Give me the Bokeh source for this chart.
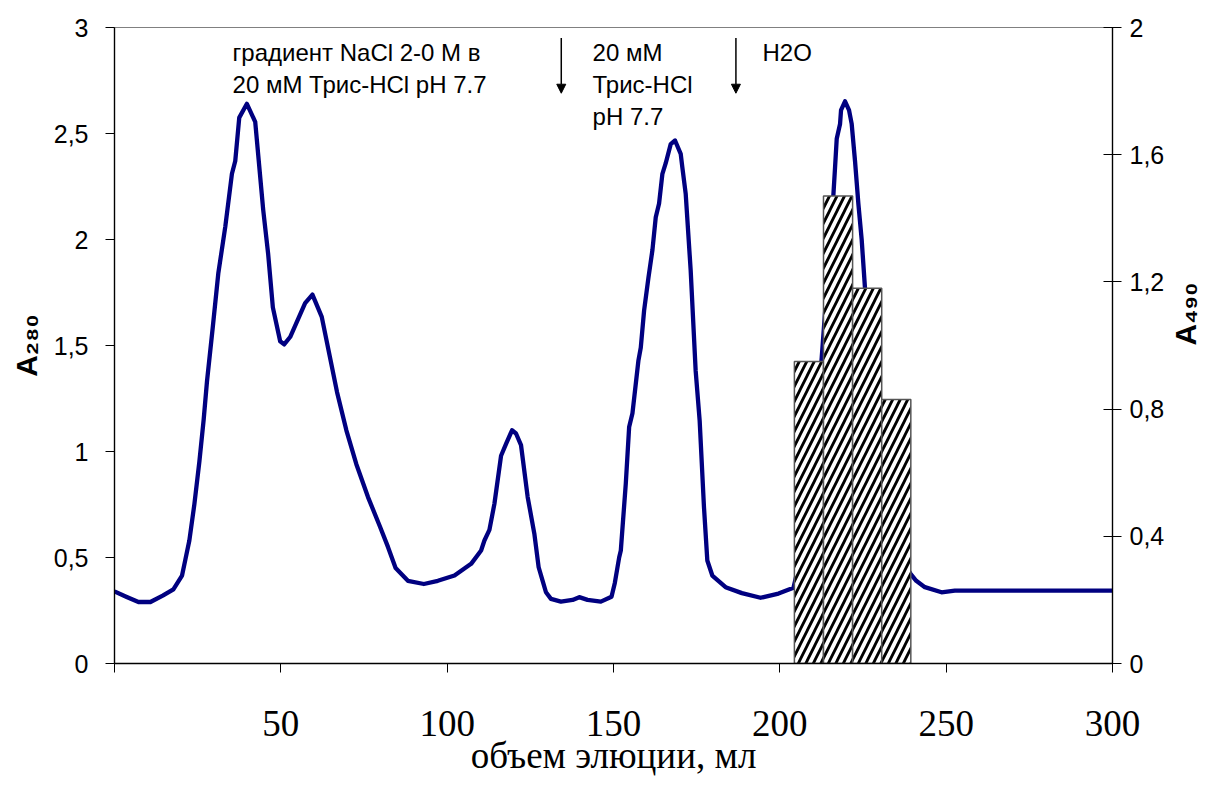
import math
from bokeh.plotting import figure
from bokeh.models import Range1d, LinearAxis, FixedTicker, Arrow, NormalHead, ColumnDataSource
from bokeh.core.properties import value
from bokeh.embed import file_html
from bokeh.resources import INLINE

# ---- data ----
volume_ml = [0, 3.5, 7.2, 10.8, 14.5, 17.7, 20.3, 21.3, 22.5, 24.0, 25.5, 26.8, 27.8, 29.5, 31.2,
             33.3, 35.3, 36.3, 37.5, 39.8, 42.3, 44.7, 46.2, 47.6, 49.8, 51.0, 52.8, 57.3, 59.5,
             62.3, 64.7, 66.9, 69.7, 72.7, 76.2, 79.7, 82.2, 84.5, 88.2, 93.0, 97.2, 102.2, 107.2,
             110.2, 111.2, 112.7, 114.2, 116.2, 117.7, 119.5, 120.7, 122.2, 124.2, 126.2, 127.5,
             128.7, 129.7, 131.2, 134.2, 137.7, 139.7, 142.2, 146.2, 149.4, 150.4, 151.7, 152.2,
             153.7, 154.7, 155.7, 157.5, 158.2, 159.2, 160.5, 161.7, 162.7, 163.7, 164.7, 165.7,
             167.2, 168.5, 170.2, 170.7, 171.7, 173.2, 174.7, 175.9, 177.2, 178.2, 179.7, 183.7,
             188.6, 194.2, 199.6, 204.1, 207.0, 210.0, 212.6, 214.5, 216.1, 216.6, 217.1, 218.1,
             218.4, 219.6, 220.8, 221.6, 222.6, 223.6, 224.6, 225.6, 227.5, 230.0, 233.0, 236.0,
             239.3, 241.0, 243.6, 248.6, 252.6, 260.0, 300.0]
a280 = [0.34, 0.315, 0.29, 0.29, 0.32, 0.35, 0.415, 0.49, 0.58, 0.75, 0.95, 1.15, 1.33, 1.58, 1.84,
        2.06, 2.31, 2.37, 2.575, 2.64, 2.555, 2.14, 1.93, 1.68, 1.52, 1.505, 1.54, 1.70, 1.74,
        1.635, 1.45, 1.28, 1.10, 0.94, 0.785, 0.65, 0.55, 0.45, 0.39, 0.375, 0.39, 0.415, 0.47,
        0.533, 0.58, 0.63, 0.753, 0.98, 1.036, 1.10, 1.085, 1.03, 0.785, 0.613, 0.454,
        0.39, 0.336, 0.305, 0.292, 0.30, 0.313, 0.30, 0.292, 0.315, 0.38, 0.50, 0.533,
        0.85, 1.115, 1.18, 1.43, 1.49, 1.665, 1.82, 1.95, 2.105, 2.17, 2.31, 2.36,
        2.45, 2.467, 2.404, 2.34, 2.216, 1.854, 1.38, 1.146, 0.737, 0.486, 0.415, 0.36,
        0.332, 0.31, 0.33, 0.357, 0.55, 0.95, 1.445, 1.85, 2.21, 2.34, 2.475, 2.545,
        2.61, 2.652, 2.61, 2.545, 2.37, 2.17, 2.0, 1.77, 1.35, 0.95, 0.65, 0.5,
        0.423, 0.39, 0.36, 0.336, 0.344, 0.344, 0.344]

fraction_x = [208.75, 217.5, 226.25, 235.0]
fraction_width = 8.75
a490 = [0.95, 1.47, 1.18, 0.83]

x_ticks = [0, 50, 100, 150, 200, 250, 300]
x_tick_labels = ["", "50", "100", "150", "200", "250", "300"]
y_ticks = [0, 0.5, 1, 1.5, 2, 2.5, 3]
y_tick_labels = ["0", "0,5", "1", "1,5", "2", "2,5", "3"]
y2_ticks = [0, 0.4, 0.8, 1.2, 1.6, 2]
y2_tick_labels = ["0", "0,4", "0,8", "1,2", "1,6", "2"]

note_x = [35.5, 35.5, 143.7, 143.7, 143.7, 194.8]
note_y = [2.884, 2.732, 2.884, 2.732, 2.580, 2.884]
note_text = ["градиент NaCl 2-0 M в", "20 мМ Трис-HCl pH 7.7", "20 мМ", "Трис-HCl", "pH 7.7", "H2O"]

arrow_x = [134.3, 186.8]
arrow_y_start = 2.95
arrow_y_end = 2.69

x_label = "объем элюции, мл"
y_label = "A₂₈₀"
y2_label = "A₄₉₀"

# ---- figure ----
p = figure(width=1221, height=787, x_range=Range1d(0, 300), y_range=Range1d(0, 3),
           output_backend="svg", toolbar_location=None,
           min_border_left=114, min_border_right=109, min_border_top=27, min_border_bottom=124)
p.extra_y_ranges = {"y2": Range1d(0, 2)}
p.xgrid.visible = False
p.ygrid.visible = False
p.outline_line_color = "#808080"
p.outline_line_width = 1.2
p.background_fill_color = "white"
p.border_fill_color = "white"

sans = "Liberation Sans"
serif = "Liberation Serif"

xa = p.xaxis[0]
xa.ticker = FixedTicker(ticks=x_ticks)
xa.major_label_overrides = {t: l for t, l in zip(x_ticks, x_tick_labels)}
xa.major_label_text_font = serif
xa.major_label_text_font_size = "37px"
xa.major_label_text_color = "black"
xa.major_label_standoff = 38
xa.major_tick_out = 9
xa.major_tick_in = 0
xa.minor_tick_line_color = None
xa.axis_line_color = "black"
xa.major_tick_line_color = "black"
xa.axis_line_width = 1.3
xa.axis_label = x_label
xa.axis_label_text_font = serif
xa.axis_label_text_font_size = "37px"
xa.axis_label_text_font_style = "normal"
xa.axis_label_text_color = "black"
xa.axis_label_standoff = -4

ya = p.yaxis[0]
ya.ticker = FixedTicker(ticks=y_ticks)
ya.major_label_overrides = {t: l for t, l in zip(y_ticks, y_tick_labels)}
ya.major_label_text_font = sans
ya.major_label_text_font_size = "25px"
ya.major_label_text_color = "black"
ya.major_label_standoff = 17
ya.major_tick_out = 9
ya.major_tick_in = 0
ya.minor_tick_line_color = None
ya.axis_line_color = "black"
ya.major_tick_line_color = "black"
ya.axis_line_width = 1.3
ya.axis_label = y_label
ya.axis_label_text_font = sans
ya.axis_label_text_font_size = "30px"
ya.axis_label_text_font_style = "bold"
ya.axis_label_text_color = "black"
ya.axis_label_standoff = 8

ya2 = LinearAxis(y_range_name="y2", ticker=FixedTicker(ticks=y2_ticks))
ya2.major_label_overrides = {t: l for t, l in zip(y2_ticks, y2_tick_labels)}
ya2.major_label_text_font = sans
ya2.major_label_text_font_size = "25px"
ya2.major_label_text_color = "black"
ya2.major_label_standoff = 8
ya2.major_tick_out = 9
ya2.major_tick_in = 9
ya2.minor_tick_line_color = None
ya2.axis_line_color = "black"
ya2.major_tick_line_color = "black"
ya2.axis_line_width = 1.3
ya2.axis_label = y2_label
ya2.axis_label_text_font = sans
ya2.axis_label_text_font_size = "30px"
ya2.axis_label_text_font_style = "bold"
ya2.axis_label_text_color = "black"
ya2.axis_label_standoff = 18
ya2.axis_label_orientation = math.pi / 2
p.add_layout(ya2, "right")

# A280 curve
p.line(volume_ml, a280, line_color="#000080", line_width=4.3, line_join="round")

# A490 fractions
p.vbar(x=fraction_x, top=a490, width=fraction_width, bottom=0, y_range_name="y2",
       fill_color="white", line_color="#555555", line_width=1.5,
       hatch_pattern="/", hatch_color="black", hatch_weight=2.8, hatch_scale=15)

# annotations
src = ColumnDataSource(dict(x=note_x, y=note_y, text=note_text))
p.text(x="x", y="y", text="text", source=src, text_font=value(sans), text_font_size="24px",
       text_color="black", text_align="left", text_baseline="alphabetic")

for ax in arrow_x:
    p.add_layout(Arrow(end=NormalHead(size=9, fill_color="black", line_color="black"),
                       x_start=ax, y_start=arrow_y_start, x_end=ax, y_end=arrow_y_end,
                       line_width=1.5, line_color="black"))

open("out.html", "w").write(file_html(p, INLINE))
